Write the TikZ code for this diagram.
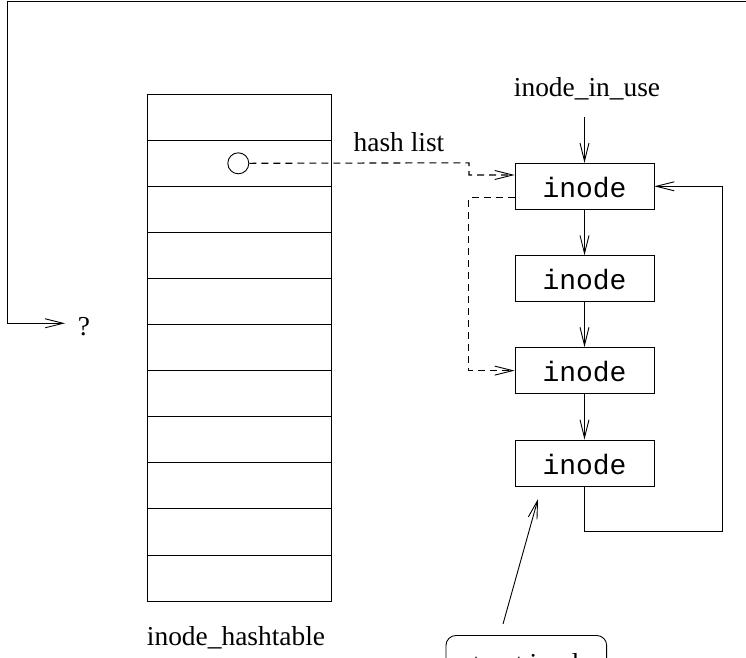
\documentclass[tikz,border=0pt]{standalone}
\usepackage{fontspec}
\setmainfont{Liberation Serif}
\newfontfamily\courfont{Liberation Mono}
\usetikzlibrary{arrows.meta,calc}
\begin{document}
\begin{tikzpicture}[x=1pt,y=-1pt,
  every node/.style={font=\fontsize{27.4}{30}\selectfont},
  ln/.style={line width=0.9pt},
  arr/.style={ln,-{Straight Barb[length=18pt,width=9pt,line width=0.9pt]}},
  dasharr/.style={arr,line width=1.1pt,dash pattern=on 7pt off 5pt},
  inodebox/.style={draw,ln,rectangle,minimum width=139pt,minimum height=46pt,inner sep=0pt,
    text height=22pt,text depth=0pt,font=\courfont\fontsize{28}{30}\selectfont},
  label/.style={inner sep=0pt,anchor=base}
]
\useasboundingbox (0,0) rectangle (746,657);
\clip (0,0) rectangle (746,657);
% hash table
\node[draw,ln,rectangle,inner sep=0pt,minimum width=184pt,minimum height=507pt,anchor=north west] (table) at (147,94) {};
\foreach \r in {1,...,10} {
  \draw[ln] ($(table.north west)+(0,46.1*\r)$) -- ($(table.north east)+(0,46.1*\r)$);
}
\node[draw,ln,circle,minimum size=21pt,inner sep=0pt] (circ) at (238.3,163.3) {};
\node[label] (hash) at (399,151.7) {hash list};
\node[label] (hashtable) at (236,645) {inode\_hashtable};
% inode chain
\node[inodebox] (b1) at (584.5,186.3) {inode};
\node[inodebox] (b2) at (584.5,278.7) {inode};
\node[inodebox] (b3) at (584.5,370.6) {inode};
\node[inodebox] (b4) at (584.5,463) {inode};
\node[label] (inuse) at (587,96.7) {inode\_in\_use};
\coordinate (inusetail) at (584.5,117);
\draw[arr] (inusetail) -- (b1.north);
\draw[arr] (b1.south) -- (b2.north);
\draw[arr] (b2.south) -- (b3.north);
\draw[arr] (b3.south) -- (b4.north);
\coordinate (loopcorner) at (722.7,531.7);
\draw[arr] (b4.south) |- (loopcorner) |- (b1.east);
% hash list dashed links
\draw[dasharr] (circ.east) -- (469,162.8) |- ([yshift=11.3pt]b1.west);
\draw[dasharr] ([yshift=-11.4pt]b1.west) -- ++(-46,0) |- (b3.west);
% outer loop to ?
\node[label] (q) at (84,335) {?};
\coordinate (qtip) at (65,323.3);
\coordinate (topright) at (750,1.5);
\draw[arr] (topright) -- (7.3,1.5) |- (qtip);
% struct inode pointer
\node[draw,ln,rounded corners=10pt,anchor=north,inner sep=0pt,minimum width=160.7pt,
  text height=37pt,text depth=14pt] (sinode) at (526.3,635) {struct inode};
\coordinate (ptail) at (503,624);
\coordinate (phead) at (538,499);
\draw[arr] (ptail) -- (phead);
\end{tikzpicture}
\end{document}
